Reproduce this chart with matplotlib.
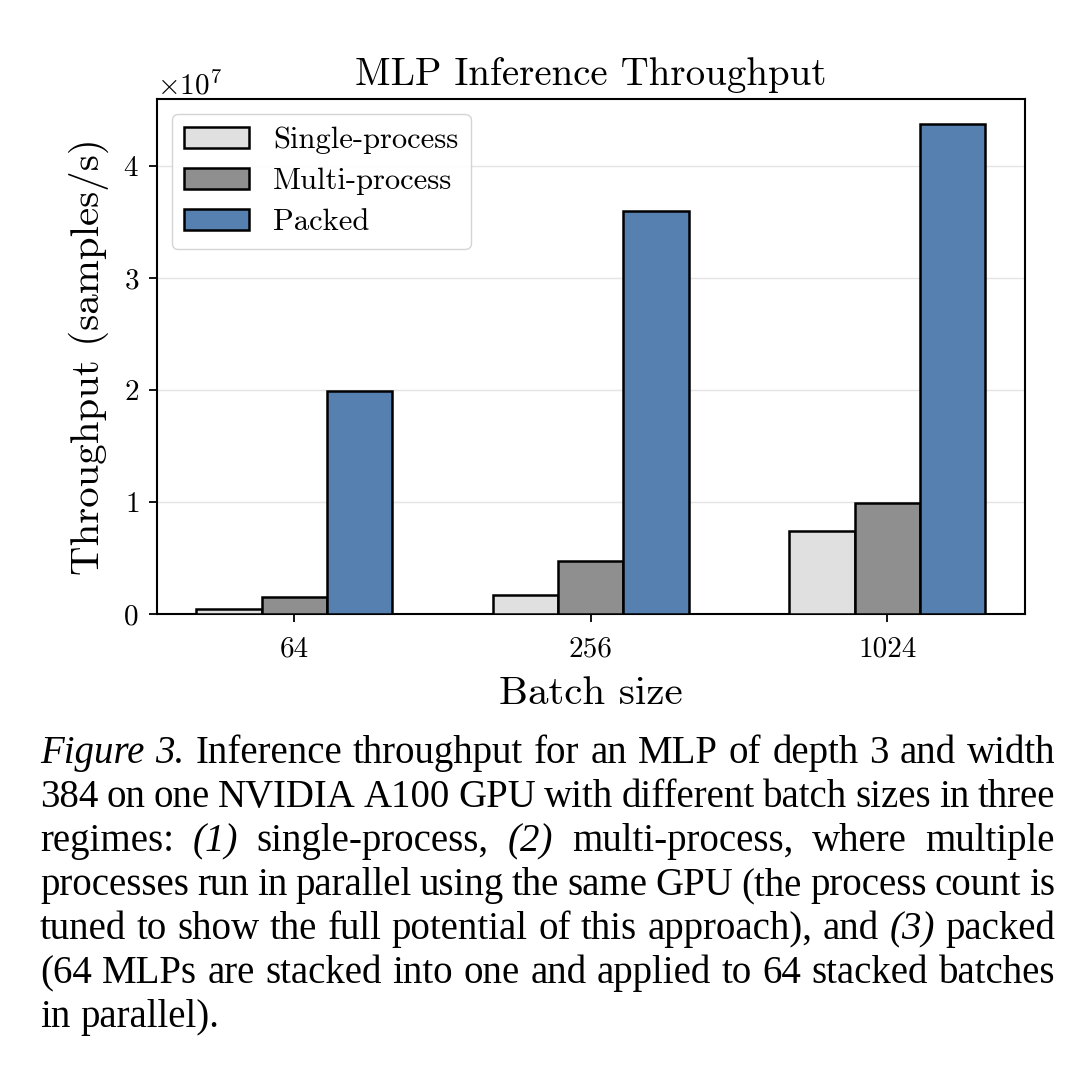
import numpy as np
import matplotlib
matplotlib.use("Agg")
import matplotlib.pyplot as plt

batch_sizes = ["64", "256", "1024"]
series = ["Single-process", "Multi-process", "Packed"]
single_proc = [0.045e7, 0.17e7, 0.74e7]
multi_proc = [0.15e7, 0.47e7, 0.99e7]
packed = [1.99e7, 3.60e7, 4.38e7]
colors = ["#e0e0e0", "#8f8f8f", "#5680b0"]

caption_lines = [
    [("Figure 3.", True), ("Inference throughput for an MLP of depth 3 and width", False)],
    [("384 on one NVIDIA A100 GPU with different batch sizes in three", False)],
    [("regimes:", False), ("(1)", True), ("single-process,", False), ("(2)", True),
     ("multi-process, where multiple", False)],
    [("processes run in parallel using the same GPU (the process count is", False)],
    [("tuned to show the full potential of this approach), and", False), ("(3)", True), ("packed", False)],
    [("(64 MLPs are stacked into one and applied to 64 stacked batches", False)],
    [("in parallel).", False)],
]

plt.rcParams["font.family"] = "serif"
plt.rcParams["font.serif"] = ["cmr10"]
plt.rcParams["mathtext.fontset"] = "cm"
plt.rcParams["axes.formatter.use_mathtext"] = True

fig = plt.figure(figsize=(10.9, 10.8), dpi=100)
ax = fig.add_axes([0.144, 0.4315, 0.796, 0.4768])

x = np.arange(len(batch_sizes))
w = 0.22
for i, (vals, lab) in enumerate(zip([single_proc, multi_proc, packed], series)):
    ax.bar(x + (i - 1) * w, vals, w, color=colors[i], edgecolor="black", linewidth=1.8,
           label=lab, zorder=3)

ax.set_ylim(0, 4.6e7)
ax.set_yticks([0, 1e7, 2e7, 3e7, 4e7])
ax.set_xticks(x)
ax.set_xticklabels(batch_sizes)
ax.tick_params(labelsize=21, length=6, width=1.3)
ax.tick_params(axis="x", pad=10)
ax.tick_params(axis="y", pad=7)
ax.yaxis.get_offset_text().set_fontsize(21)
ax.grid(axis="y", color="#e4e4e4", linewidth=1.0, zorder=0)
for s in ax.spines.values():
    s.set_linewidth(1.5)
ax.set_title("MLP Inference Throughput", fontsize=28, pad=10)
ax.set_xlabel("Batch size", fontsize=29.5, labelpad=10)
ax.set_ylabel("Throughput (samples/s)", fontsize=29.5, labelpad=10)
leg = ax.legend(loc="upper left", fontsize=22, fancybox=True, framealpha=0.9,
                edgecolor="#d0d0d0", handlelength=2.1, handleheight=0.7,
                labelspacing=0.45, borderpad=0.4)

# justified caption
renderer = fig.canvas.get_renderer()
left_px, right_px = 40, 1055
baselines = [763, 807, 851, 895, 939, 983, 1027]
H, W = 1080, 1090
FS = 28
for li, (line, yb) in enumerate(zip(caption_lines, baselines)):
    words = []
    for seg, ital in line:
        for wd in seg.split(" "):
            words.append((wd, ital))
    arts = []
    for wd, ital in words:
        t = fig.text(0, 1 - yb / H, wd, fontsize=FS, family="Liberation Serif",
                     style="italic" if ital else "normal", va="baseline", ha="left")
        arts.append(t)
    widths = [a.get_window_extent(renderer).width for a in arts]
    if li == len(caption_lines) - 1:
        gap = renderer.points_to_pixels(FS) * 0.25
    else:
        gap = (right_px - left_px - sum(widths)) / (len(arts) - 1)
    xp = left_px
    for a, wdt in zip(arts, widths):
        a.set_x(xp / W)
        xp += wdt + gap

fig.savefig("out.png", dpi=100)
